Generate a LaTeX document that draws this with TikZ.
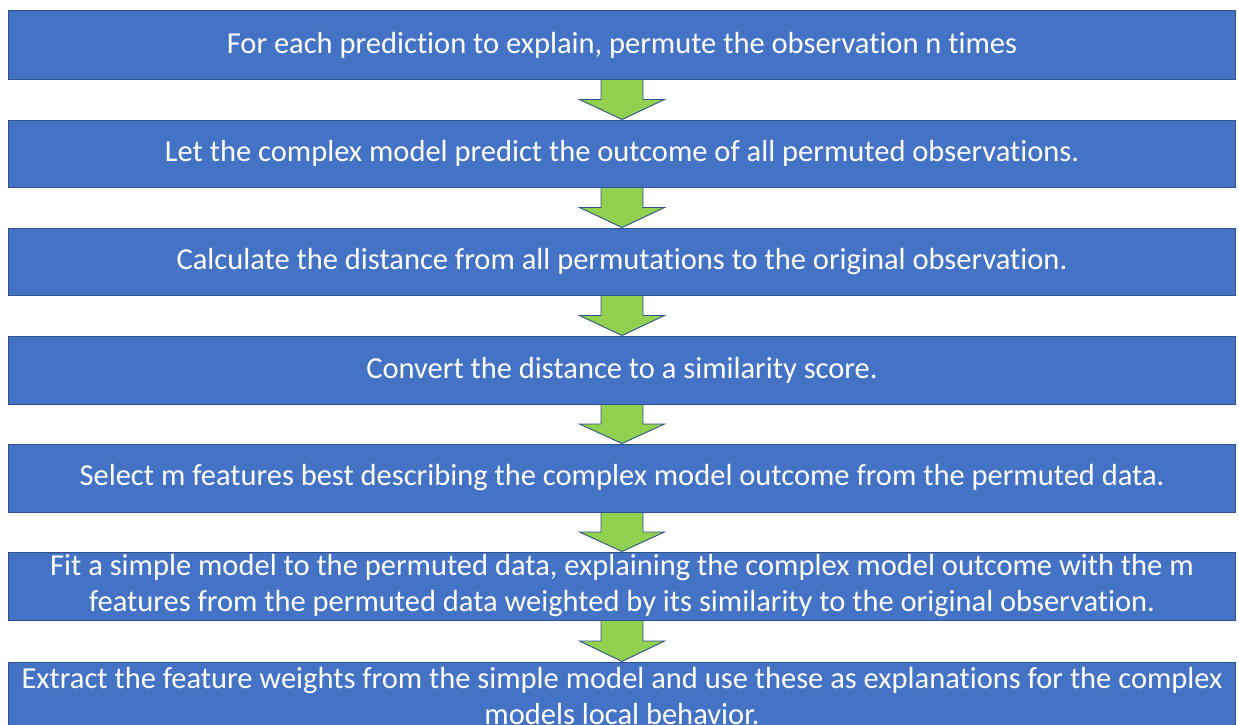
\documentclass[tikz,border=0pt]{standalone}
\usepackage{fontspec}
\setmainfont[Ligatures=NoCommon]{Carlito}
\usetikzlibrary{calc}
\definecolor{boxfill}{HTML}{4472C4}
\definecolor{boxline}{HTML}{2F528F}
\definecolor{arrowfill}{HTML}{92D050}
\tikzset{
  stepbox/.style={draw=boxline, line width=1pt, fill=boxfill, text=white,
    minimum width=1227pt, minimum height=68pt, inner sep=0pt, align=center,
    font=\fontsize{30.5}{36}\selectfont},
  flowarrow/.style={draw=boxline, line width=0.9pt, fill=arrowfill, line join=miter}
}
% block arrow from the bottom of one box to the top of the next
\newcommand{\blockarrow}[2]{%
  \coordinate (m-#1) at ($(#1.south)!0.5!(#2.north)$);
  \draw[flowarrow] ($(#1.south)+(-21,0)$) -- ($(#1.south)+(21,0)$)
    -- ($(m-#1)+(21,0)$) -- ($(m-#1)+(42.5,0)$) -- (#2.north)
    -- ($(m-#1)+(-42.5,0)$) -- ($(m-#1)+(-21,0)$) -- cycle;}
\begin{document}
\begin{tikzpicture}[x=1pt,y=-1pt]
\useasboundingbox (0,0) rectangle (1239,725);
\clip (0,0) rectangle (1239,725);
\node[stepbox] (s1) at (622,45) {For each prediction to explain, permute the observation n times};
\node[stepbox, minimum height=67pt] (s2) at (622,153.5) {Let the complex model predict the outcome of all permuted observations.};
\node[stepbox, minimum height=67pt] (s3) at (622,261.5) {Calculate the distance from all permutations to the original observation.};
\node[stepbox] (s4) at (622,370) {Convert the distance to a similarity score.};
\node[stepbox] (s5) at (622,478) {Select m features best describing the complex model outcome from the permuted data.};
\node[stepbox] (s6) at (622,586) {Fit a simple model to the permuted data, explaining the complex model outcome with the m\\features from the permuted data weighted by its similarity to the original observation.};
\node[stepbox] (s7) at (622,696) {Extract the feature weights from the simple model and use these as explanations for the complex\\models local behavior.};
\blockarrow{s1}{s2}
\blockarrow{s2}{s3}
\blockarrow{s3}{s4}
\blockarrow{s4}{s5}
\blockarrow{s5}{s6}
\blockarrow{s6}{s7}
\end{tikzpicture}
\end{document}
